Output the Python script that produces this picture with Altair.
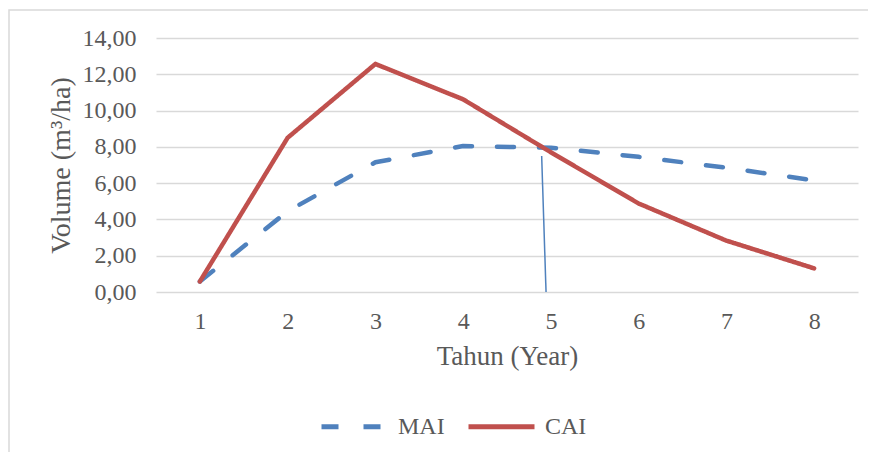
import altair as alt
import pandas as pd

years = [1, 2, 3, 4, 5, 6, 7, 8]
mai = [0.58, 4.45, 7.15, 8.05, 7.95, 7.45, 6.85, 6.15]
cai = [0.58, 8.50, 12.57, 10.62, 7.70, 4.88, 2.83, 1.30]
series_names = ["MAI", "CAI"]
series_colors = ["#4F81BD", "#C0504D"]
y_ticks = [0, 2, 4, 6, 8, 10, 12, 14]
marker_x = [4.895, 4.945]
marker_y = [7.5, 0.0]

df = pd.DataFrame(
    {"Tahun": years * 2,
     "Volume": mai + cai,
     "Seri": ["MAI"] * len(years) + ["CAI"] * len(years)}
)
df_marker = pd.DataFrame({"Tahun": marker_x, "Volume": marker_y})

FONT = "Liberation Serif"
GRAY = "#595959"

xscale = alt.Scale(domain=[0.5, 8.5], nice=False, zero=False)
yscale = alt.Scale(domain=[0, 14], nice=False)

xaxis = alt.Axis(
    values=years,
    grid=False,
    ticks=False,
    domain=False,
    format="d",
    labelFont=FONT,
    labelFontSize=24,
    labelColor=GRAY,
    labelPadding=17,
    labelOverlap=False,
    title="Tahun (Year)",
    titleFont=FONT,
    titleFontSize=27,
    titleFontWeight="normal",
    titleColor=GRAY,
    titlePadding=10,
)
yaxis = alt.Axis(
    values=y_ticks,
    grid=True,
    gridColor="#D9D9D9",
    gridWidth=1.5,
    ticks=False,
    domain=False,
    labelOverlap=False,
    labelExpr="replace(format(datum.value, '.2f'), '.', ',')",
    labelFont=FONT,
    labelFontSize=24,
    labelColor=GRAY,
    labelPadding=20,
    title="Volume (m³/ha)",
    titleFont=FONT,
    titleFontSize=28,
    titleFontWeight="normal",
    titleColor=GRAY,
    titlePadding=7,
)

color = alt.Color(
    "Seri:N",
    scale=alt.Scale(domain=series_names, range=series_colors),
    legend=alt.Legend(
        title=None,
        orient="none",
        direction="horizontal",
        legendX=163,
        legendY=353,
        symbolType="stroke",
        symbolSize=4356,
        symbolStrokeWidth=5,
        labelFont=FONT,
        labelFontSize=24,
        labelColor=GRAY,
        labelOffset=8,
        columnPadding=13,
    ),
)

lines = alt.Chart(df).mark_line(
    strokeWidth=4.5, strokeCap="round", strokeJoin="round"
).encode(
    x=alt.X("Tahun:Q", scale=xscale, axis=xaxis),
    y=alt.Y("Volume:Q", scale=yscale, axis=yaxis),
    color=color,
    strokeDash=alt.StrokeDash(
        "Seri:N",
        scale=alt.Scale(domain=series_names, range=[[17, 25], [1, 0]]),
        legend=None,
    ),
)

marker = alt.Chart(df_marker).mark_line(color="#4F81BD", strokeWidth=1.5).encode(
    x=alt.X("Tahun:Q", scale=xscale, axis=xaxis),
    y=alt.Y("Volume:Q", scale=yscale, axis=yaxis),
    order=alt.Order("Volume:Q"),
)

frame = alt.Chart(pd.DataFrame({"k": [0]})).mark_rect(
    fill=None, stroke="#D9D9D9", strokeWidth=1.5
).encode(
    x=alt.value(-147), x2=alt.value(720), y=alt.value(-28), y2=alt.value(430)
)

chart = (
    alt.layer(frame, lines, marker)
    .properties(width=702, height=254,
                padding={"left": 148, "top": 30, "right": 10, "bottom": 160},
                autosize=alt.AutoSizeParams(type="none"),
                background="white")
    .configure_view(stroke="transparent", strokeWidth=0)
)

chart.save("out.html", embed_options={"renderer": "svg", "actions": False})
